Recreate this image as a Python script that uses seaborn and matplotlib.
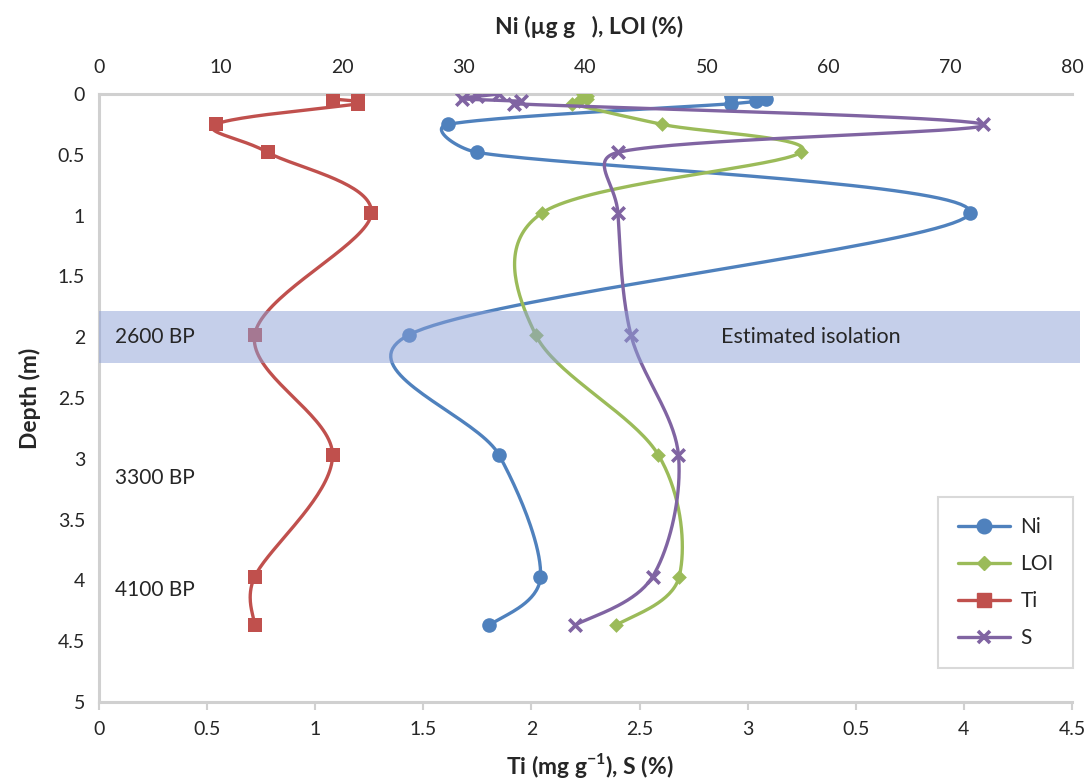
import numpy as np
import matplotlib
matplotlib.use("Agg")
import matplotlib.pyplot as plt
from matplotlib.lines import Line2D
import seaborn as sns

# ---------------- data ----------------
depth = [0.0, 0.02, 0.04, 0.06, 0.08, 0.25, 0.48, 0.98, 1.98, 2.97, 3.97, 4.37]
ni = [52.0, 52.0, 54.8, 54.0, 52.0, 28.7, 31.1, 71.6, 25.5, 32.9, 36.3, 32.1]
loi = [39.8, 40.1, 40.1, 39.5, 38.9, 46.3, 57.7, 36.4, 35.9, 46.0, 47.7, 42.5]
ti = [1.08, 1.08, 1.08, 1.20, 1.20, 0.54, 0.78, 1.26, 0.72, 1.08, 0.72, 0.72]
s_pct = [1.85, 1.75, 1.68, 1.95, 1.92, 4.09, 2.40, 2.40, 2.46, 2.68, 2.56, 2.20]

top_ticks = [0, 10, 20, 30, 40, 50, 60, 70, 80]
bottom_ticks = [0, 0.5, 1, 1.5, 2, 2.5, 3, 3.5, 4, 4.5]
bottom_labels = ["0", "0.5", "1", "1.5", "2", "2.5", "3", "0.5", "4", "4.5"]
depth_ticks = [0, 0.5, 1, 1.5, 2, 2.5, 3, 3.5, 4, 4.5, 5]
depth_labels = ["0", "0.5", "1", "1.5", "2", "2.5", "3", "3.5", "4", "4.5", "5"]
band = (1.785, 2.21)
annotations = [("2600 BP", 2.0), ("3300 BP", 3.16), ("4100 BP", 4.08)]

C_NI, C_LOI, C_TI, C_S = "#4f81bd", "#9bbb59", "#c0504d", "#8064a2"

sns.set_style("white")
plt.rcParams["font.family"] = ["Lato", "DejaVu Sans"]

# pixel scales of the axes (used only to shape the smoothed path)
PX_TOP = 973 / 80
PX_BOT = 973 / 4.5
PX_Y = 608 / 5


def smooth(xs, ys, kx, ky, n=40):
    """Excel-style smoothed path: cubic Bezier segments, tension 1/6 clamped
    to half the segment length."""
    P = np.column_stack([np.asarray(xs, float) * kx, np.asarray(ys, float) * ky])
    m = len(P)
    out = [P[0]]
    t = np.linspace(0, 1, n)[1:, None]
    for i in range(m - 1):
        p0 = P[max(i - 1, 0)]
        p1 = P[i]
        p2 = P[i + 1]
        p3 = P[min(i + 2, m - 1)]
        d02 = np.linalg.norm(p2 - p0)
        d12 = np.linalg.norm(p2 - p1)
        d13 = np.linalg.norm(p3 - p1)
        f1 = 1 / 6 if d02 / 6 < d12 / 2 else (d12 / (2 * d02) if d02 > 0 else 0)
        f2 = 1 / 6 if d13 / 6 < d12 / 2 else (d12 / (2 * d13) if d13 > 0 else 0)
        c1 = p1 + (p2 - p0) * f1
        c2 = p2 - (p3 - p1) * f2
        seg = ((1 - t) ** 3) * p1 + 3 * ((1 - t) ** 2) * t * c1 + 3 * (1 - t) * t ** 2 * c2 + t ** 3 * p2
        out.extend(seg)
    out = np.array(out)
    return out[:, 0] / kx, out[:, 1] / ky


fig = plt.figure(figsize=(10.88, 7.83), dpi=100)
ax = fig.add_axes([99 / 1088, 1 - 702 / 783, 973 / 1088, 608 / 783])
ax2 = ax.twiny()

LW = 2.4


def draw(axis, vals, color, marker, ms, z, kx):
    sx, sy = smooth(vals, depth, kx, PX_Y)
    sns.lineplot(x=sx, y=sy, sort=False, estimator=None, color=color, lw=LW,
                 ax=axis, zorder=z)
    if marker == "x":
        sns.scatterplot(x=vals, y=depth, marker="x", s=ms ** 2, color=color,
                        linewidth=2.6, ax=axis, zorder=z + 0.5)
    else:
        sns.scatterplot(x=vals, y=depth, marker=marker, s=ms ** 2, color=color,
                        edgecolor=color, linewidth=0, ax=axis, zorder=z + 0.5)


draw(ax, ni, C_NI, "o", 10.5, 2, PX_TOP)
draw(ax, loi, C_LOI, "D", 7.5, 3, PX_TOP)
draw(ax2, ti, C_TI, "s", 10, 4, PX_BOT)
draw(ax2, s_pct, C_S, "x", 9, 5, PX_BOT)

# band (semi-transparent overlay, drawn over the lines)
ax2.axhspan(band[0], band[1], xmin=0, xmax=1.008, color="#8ca0d7", alpha=0.5,
            lw=0, zorder=10, clip_on=False)

ax.set_xlim(0, 80)
ax2.set_xlim(0, 4.5)
ax.set_ylim(5, 0)

ax.xaxis.tick_top()
ax.xaxis.set_label_position("top")
ax2.xaxis.tick_bottom()
ax2.xaxis.set_label_position("bottom")

ax.set_xticks(top_ticks)
ax.set_xticklabels([str(v) for v in top_ticks])
ax2.set_xticks(bottom_ticks)
ax2.set_xticklabels(bottom_labels)
ax.set_yticks(depth_ticks)
ax.set_yticklabels(depth_labels)

TFS = 14
GRAY = "#d0d0d0"
ax.tick_params(axis="x", which="both", top=True, bottom=False, length=0,
               labelsize=TFS, pad=13, labeltop=True, labelbottom=False)
ax.tick_params(axis="y", length=5, color=GRAY, width=1.5, labelsize=TFS, pad=5)
ax2.tick_params(axis="x", which="both", bottom=True, top=False, length=6,
                color=GRAY, width=1.5, labelsize=TFS, pad=8,
                labelbottom=True, labeltop=False)

for name, sp in ax.spines.items():
    sp.set_visible(name in ("left", "top"))
    sp.set_color(GRAY)
    sp.set_linewidth(2.2)
for name, sp in ax2.spines.items():
    sp.set_visible(name == "bottom")
    sp.set_color(GRAY)
    sp.set_linewidth(2.2)

LFS = 16.5
ax.set_xlabel("Ni (µg g   ), LOI (%)", fontsize=LFS, fontweight="bold")
ax.xaxis.set_label_coords(0.504, 1 + (94 - 27) / 608)
ax.xaxis.label.set_va("center")
ax2.set_xlabel("Ti (mg g$^{\\mathregular{-1}}$), S (%)", fontsize=16.5, fontweight="bold")
ax2.xaxis.set_label_coords(0.504, -(766 - 702) / 608)
ax2.xaxis.label.set_va("center")
ax.set_ylabel("Depth (m)", fontsize=LFS, fontweight="bold")
ax.yaxis.set_label_coords(-(99 - 30) / 973, 0.5)
ax.yaxis.label.set_va("center")

for txt, d in annotations:
    ax2.text(0.074, d, txt, fontsize=15, va="center", ha="left", zorder=12)
ax2.text(3.29, 2.0, "Estimated isolation", fontsize=15.5, va="center",
         ha="center", zorder=12)

handles = [
    Line2D([], [], color=C_NI, lw=LW, marker="o", ms=10.5),
    Line2D([], [], color=C_LOI, lw=LW, marker="D", ms=7.5),
    Line2D([], [], color=C_TI, lw=LW, marker="s", ms=10),
    Line2D([], [], color=C_S, lw=LW, marker="x", ms=9, mew=2.6),
]
leg = ax2.legend(handles, ["Ni", "LOI", "Ti", "S"], loc="upper left",
                 bbox_to_anchor=(938 / 1088, 1 - 497 / 783),
                 bbox_transform=fig.transFigure, fontsize=15, frameon=True,
                 fancybox=False, edgecolor=GRAY, handlelength=2.5,
                 handletextpad=0.5, labelspacing=0.82, borderpad=0.95,
                 borderaxespad=0)
leg.get_frame().set_linewidth(1.5)
leg.set_zorder(20)

fig.savefig("out.png", dpi=100)
